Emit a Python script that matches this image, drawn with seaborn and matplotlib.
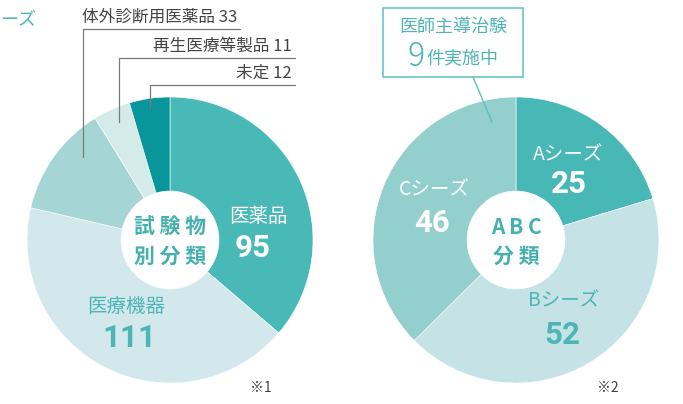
import matplotlib
matplotlib.use("Agg")
import matplotlib.pyplot as plt
from matplotlib.patches import Rectangle
import seaborn as sns

# ---------------------------------------------------------------- data
left_labels = ["医薬品", "医療機器", "体外診断用医薬品", "再生医療等製品", "未定"]
left_values = [95, 111, 33, 11, 12]
left_colors = ["#48b9b7", "#d2e8ec", "#a5d6d5", "#d4ebea", "#08969a"]

right_labels = ["Aシーズ", "Bシーズ", "Cシーズ"]
right_values = [25, 52, 46]
right_colors = ["#48b8b7", "#c5e2e6", "#93cfcd"]

TEAL_TXT = "#4db6b4"
CENTER_TXT = "#45b1af"
GRAY = "#7a7a7a"
NUM_FONT = ["Roboto", "DejaVu Sans"]
NUM_SIZE = 22.5
H = 404

sns.set_theme(style="white")
plt.rcParams["font.family"] = ["Noto Sans CJK JP", "DejaVu Sans"]

fig = plt.figure(figsize=(6.83, 4.04), dpi=100)
ax = fig.add_axes([0, 0, 1, 1])


def y(px):
    return H - px


R, R_IN = 143, 49
wp = dict(width=R - R_IN, edgecolor="white", linewidth=0.4)
ax.pie(left_values, colors=left_colors, startangle=90, counterclock=False,
       center=(170, y(240)), radius=R, wedgeprops=wp)
ax.pie(right_values, colors=right_colors, startangle=90, counterclock=False,
       center=(516, y(240)), radius=R, wedgeprops=wp)
ax.set_xlim(0, 683)
ax.set_ylim(0, H)
ax.set_aspect("equal")
ax.axis("off")

# --- left pie labels
ax.text(258, y(217), left_labels[0], color="white", fontsize=14, ha="center", va="center")
ax.text(253, y(248), str(left_values[0]), color="white", fontsize=NUM_SIZE, fontweight="bold",
        ha="center", va="center", family=NUM_FONT)
ax.text(126, y(307), left_labels[1], color=TEAL_TXT, fontsize=14, ha="center", va="center")
ax.text(129, y(338), str(left_values[1]), color=TEAL_TXT, fontsize=NUM_SIZE, fontweight="bold",
        ha="center", va="center", family=NUM_FONT)
ax.text(170, y(227), "試 験 物", color=CENTER_TXT, fontsize=15, fontweight="bold",
        ha="center", va="center")
ax.text(170, y(256), "別 分 類", color=CENTER_TXT, fontsize=15, fontweight="bold",
        ha="center", va="center")

# leader lines for small slices
leaders = [(83, 29, 157, 240), (119, 58, 122, 295), (150, 85, 108, 295)]
for (lx, ly, lend, rx), lab, val in zip(leaders, left_labels[2:], left_values[2:]):
    ax.plot([lx, lx, rx], [y(lend), y(ly), y(ly)], color=GRAY, lw=0.9)
    ax.text(rx - 3, y(ly) + 3, f"{lab} {val}", color="#444444", fontsize=12,
            ha="right", va="bottom")

ax.text(0, y(20), "ーズ", color=TEAL_TXT, fontsize=13, ha="left", va="center")

# --- right pie labels
right_pos = [((568, 155), (569, 184)), ((564, 301), (562, 335)), ((434, 190), (432, 223))]
right_txt = ["white", TEAL_TXT, "white"]
for (lp, vp), lab, val, c in zip(right_pos, right_labels, right_values, right_txt):
    ax.text(lp[0], y(lp[1]), lab, color=c, fontsize=14, ha="center", va="center")
    ax.text(vp[0], y(vp[1]), str(val), color=c, fontsize=NUM_SIZE, fontweight="bold",
            ha="center", va="center", family=NUM_FONT)
ax.text(516, y(227), "A B C", color=CENTER_TXT, fontsize=15, fontweight="bold",
        ha="center", va="center")
ax.text(516, y(256), "分 類", color=CENTER_TXT, fontsize=15, fontweight="bold",
        ha="center", va="center")

# callout box
ax.add_patch(Rectangle((383, y(77)), 140, 69, facecolor="white", edgecolor="#5cc1bf", lw=1.1))
ax.plot([473, 492], [y(77), y(122)], color="#5cc1bf", lw=1.0)
ax.text(453, y(27), "医師主導治験", color=TEAL_TXT, fontsize=13, ha="center", va="center")
ax.text(425, y(57), "9", color=TEAL_TXT, fontsize=23, ha="right", va="center",
        fontweight="light")
ax.text(426, y(58), "件実施中", color=TEAL_TXT, fontsize=13, ha="left", va="center")

ax.text(261, y(388), "※1", color="#444444", fontsize=10, ha="center", va="center")
ax.text(608, y(388), "※2", color="#444444", fontsize=10, ha="center", va="center")

fig.savefig("out.png", dpi=100, facecolor="white")
